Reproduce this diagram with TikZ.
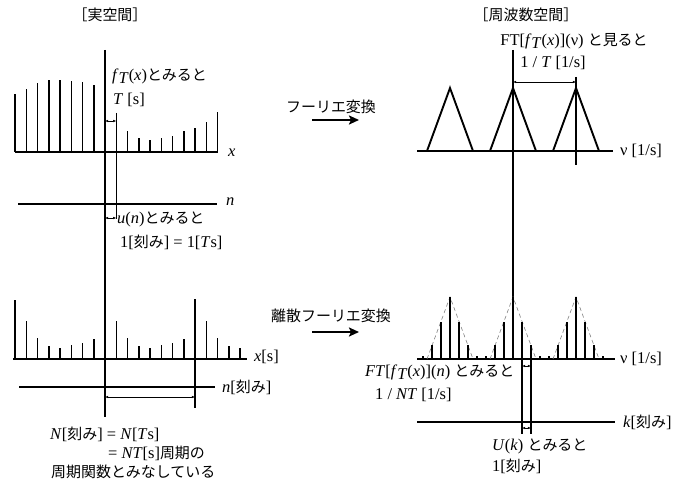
\documentclass[tikz,border=0pt]{standalone}
\usepackage{fontspec}
\setmainfont{Liberation Serif}
\newfontfamily\jp[Scale=0.91]{Noto Sans CJK JP}
\usetikzlibrary{arrows.meta}
\newcommand{\myit}[1]{\textit{#1}}
\newcommand{\subT}{\raisebox{-0.45ex}{\myit{T}}}
\tikzset{
  axisline/.style={line width=2.1bp},
  spike/.style={line width=1.5bp},
  guide/.style={line width=1.2bp},
  dimarrow/.style={line width=0.5bp,{Latex[length=3.2bp,width=2.6bp]}-{Latex[length=3.2bp,width=2.6bp]}},
  bigarrow/.style={line width=2.4bp,-{Stealth[length=10bp,width=9bp,inset=2bp]}},
  tri/.style={line width=1.9bp,line join=miter},
  dashtri/.style={gray,line width=0.6bp,dash pattern=on 4bp off 3bp},
  lbl/.style={font=\fontsize{16.5}{18}\selectfont,inner sep=0pt},
}
\begin{document}
\begin{tikzpicture}[x=1bp,y=-1bp]
\useasboundingbox (0,0) rectangle (680,483);
% ---------- titles
\node[lbl] (t1) at (110,15) {\jp ［実空間］};
\node[lbl] (t2) at (526,15) {\jp ［周波数空間］};
% ---------- top-left: f_T(x)
\draw[axisline] (105,50) -- (105,417);
\draw[axisline] (15,152) coordinate (xa) -- (218,152) coordinate (xb);
\node[lbl,anchor=west] (xl) at (228,153) {\myit{x}};
\foreach \xx/\yy in {93.75/85,82.5/82,71.25/81,60/80,48.75/80,37.5/83,26.25/89,15/94,
  127.5/131,138.75/138,150/140,161.25/138,172.5/136,183.75/131,195/128,206.25/122,217.5/112}
  \draw[spike] (\xx,152) -- (\xx,\yy);
\draw[spike] (116.25,113) -- (116.25,219);
\draw[dimarrow] (105,121) -- (116.25,121);
\node[lbl,anchor=west] (fT) at (112,76) {\myit{f}\subT(\myit{x}){\jp とみると}};
\node[lbl,anchor=west] (Ts) at (113,100) {\myit{T} [s]};
% n axis
\draw[axisline] (18,204) coordinate (na) -- (217,204) coordinate (nb);
\node[lbl,anchor=west] (nl) at (226,202) {\myit{n}};
\draw[dimarrow] (105,218) -- (116.25,218);
\node[lbl,anchor=west] (un) at (117,219) {\myit{u}(\myit{n}){\jp とみると}};
\node[lbl,anchor=west] (un2) at (120,242) {1[{\jp 刻み}] = 1[\myit{T}s]};
% ---------- middle arrows
\node[lbl] (ft) at (331,107) {\jp フーリエ変換};
\coordinate (fa) at (312,120); \coordinate (fb) at (359,120);
\draw[bigarrow] (fa) -- (fb);
\node[lbl] (dft) at (331,316) {\jp 離散フーリエ変換};
\coordinate (da) at (312,332); \coordinate (db) at (359,332);
\draw[bigarrow] (da) -- (db);
% ---------- top-right
\draw[axisline] (417,151) -- (613,151);
\node[lbl,anchor=west] (nu1) at (620,151) {ν [1/s]};
\foreach \a in {450,513,576}
  \draw[tri] (\a-23,151) -- (\a,88) -- (\a+23,151);
\draw[axisline] (513,50) -- (513,359);
\draw[guide] (576,77) -- (576,165);
\draw[dimarrow] (513,82) -- (576,82);
\node[lbl] (oneT) at (553,63) {1 / \myit{T} [1/s]};
\node[lbl] (FTt) at (574,41) {FT[\myit{f}\subT(\myit{x})](ν) {\jp と見ると}};
% ---------- bottom-left
\draw[axisline] (13,359) -- (247,359);
\node[lbl,anchor=west] (xs) at (254,357) {\myit{x}[s]};
\foreach \xx/\hh in {15/59,26.25/38,37.5/21.5,48.75/13,60/11.5,71.25/14,82.5/16.5,93.75/20.5,
  116.25/38,127.5/21.5,138.75/13,150/11.5,161.25/14,172.5/16.5,183.75/20.5,
  206.25/38,217.5/21.5,228.75/13,240/11.5}
  \draw[spike] (\xx,359) -- (\xx,359-\hh);
\draw[spike] (195,299) -- (195,408);
\draw[axisline] (19,387) -- (215,387);
\node[lbl,anchor=west] (nk) at (222,387) {\myit{n}[{\jp 刻み}]};
\draw[dimarrow] (105,397) -- (195,397);
\node[lbl,anchor=west] (N1) at (50,434) {\myit{N}[{\jp 刻み}] = \myit{N}[\myit{T}s]};
\node[lbl,anchor=west] (N2) at (108,453) {= \myit{NT}[s]{\jp 周期の}};
\node[lbl,anchor=west] (N3) at (51,472) {\jp 周期関数とみなしている};
% ---------- bottom-right
\draw[axisline] (417,359) -- (615,359);
\node[lbl,anchor=west] (nu2) at (620,359) {ν [1/s]};
\foreach \a in {450,513,576}{
  \draw[dashtri] (\a-23,359) -- (\a,297) -- (\a+23,359);
  \foreach \m/\hh in {-3/3,-2/14,-1/37,0/62,1/37,2/14,3/3}
    \draw[spike] (\a+9*\m,359) -- (\a+9*\m,359-\hh);
}
\draw[spike] (522,322) -- (522,434);
\draw[spike] (531,345) -- (531,434);
\draw[dimarrow] (522,366) -- (531,366);
\draw[dimarrow] (522,428) -- (531,428);
\draw[axisline] (417,422) -- (615,422);
\node[lbl,anchor=west] (kk) at (623,422) {\myit{k}[{\jp 刻み}]};
\node[lbl,anchor=west] (FTn) at (365,372) {\myit{FT}[\myit{f}\subT(\myit{x})](\myit{n}) {\jp とみると}};
\node[lbl,anchor=west] (NT) at (375,395) {1 / \myit{NT} [1/s]};
\node[lbl,anchor=west] (Uk) at (492,446) {\myit{U}(\myit{k}) {\jp とみると}};
\node[lbl,anchor=west] (Uk2) at (492,466) {1[{\jp 刻み}]};
\end{tikzpicture}
\end{document}
